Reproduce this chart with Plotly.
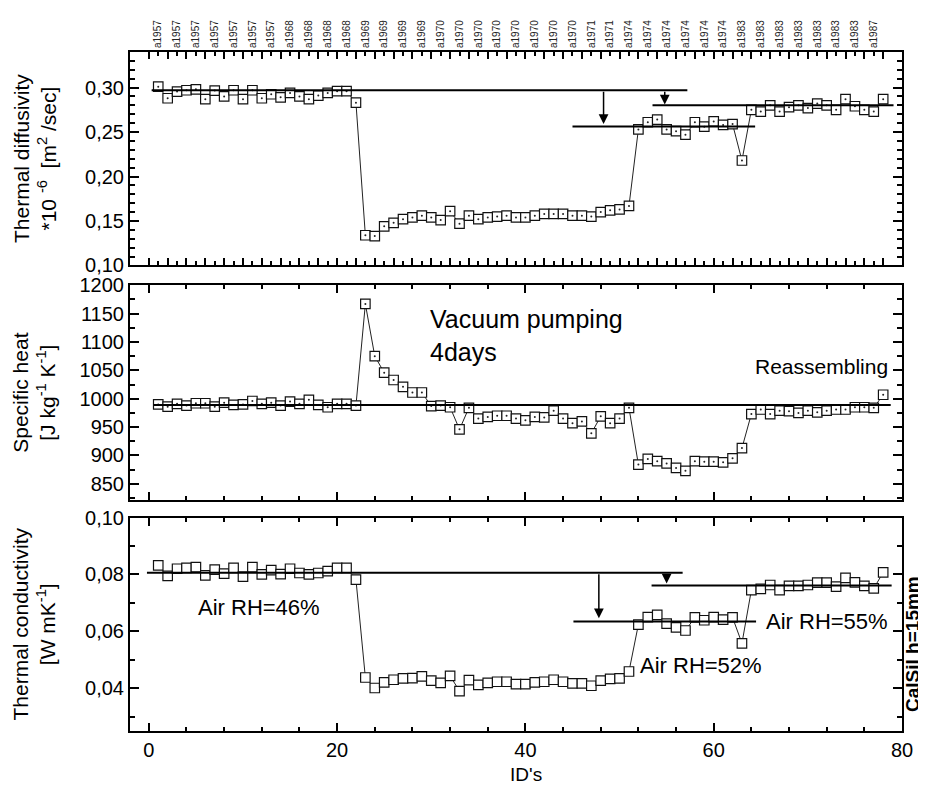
import plotly.graph_objects as go

# ---------------- data ----------------
ids = list(range(1, 79))

diffusivity = [0.301, 0.288, 0.2955, 0.297, 0.298, 0.287, 0.2966, 0.290, 0.297, 0.287,
               0.297, 0.288, 0.2925, 0.289, 0.294, 0.290, 0.287, 0.291, 0.294, 0.296,
               0.296, 0.283, 0.134, 0.133, 0.144, 0.148, 0.152, 0.154, 0.156, 0.154,
               0.151, 0.161, 0.147, 0.156, 0.152, 0.154, 0.155, 0.156, 0.154, 0.154,
               0.156, 0.158, 0.158, 0.158, 0.156, 0.156, 0.155, 0.160, 0.162, 0.163,
               0.167, 0.253, 0.261, 0.264, 0.253, 0.251, 0.247, 0.261, 0.256, 0.262,
               0.258, 0.259, 0.218, 0.275, 0.273, 0.280, 0.273, 0.278, 0.280, 0.277,
               0.282, 0.280, 0.275, 0.287, 0.279, 0.275, 0.273, 0.287]

specific_heat = [990, 986, 991, 988, 992, 992, 986, 993, 989, 990,
                 996, 991, 993, 988, 995, 991, 998, 989, 985, 991,
                 991, 988, 1167, 1075, 1046, 1033, 1021, 1011, 1011, 987,
                 988, 985, 946, 984, 965, 968, 970, 970, 965, 962,
                 968, 967, 979, 965, 957, 960, 939, 969, 957, 965,
                 984, 884, 894, 890, 886, 878, 873, 890, 889, 889,
                 888, 895, 913, 973, 981, 973, 979, 978, 975, 979,
                 976, 979, 981, 981, 985, 985, 984, 1007]

conductivity = [0.0832, 0.0795, 0.0820, 0.0823, 0.0826, 0.0797, 0.0817, 0.0803, 0.0823, 0.0792,
                0.0826, 0.0800, 0.0815, 0.0801, 0.0820, 0.0805, 0.0800, 0.0805, 0.0812, 0.0823,
                0.0823, 0.0782, 0.0438, 0.0401, 0.0421, 0.0430, 0.0435, 0.0436, 0.0442, 0.0427,
                0.0419, 0.0444, 0.0390, 0.0429, 0.0412, 0.0419, 0.0423, 0.0423, 0.0415, 0.0415,
                0.0421, 0.0423, 0.0430, 0.0423, 0.0417, 0.0417, 0.0409, 0.0427, 0.0433, 0.0435,
                0.0459, 0.0624, 0.0650, 0.0658, 0.0627, 0.0614, 0.0603, 0.0649, 0.0639, 0.0650,
                0.0641, 0.0649, 0.0558, 0.0745, 0.0749, 0.0763, 0.0745, 0.0760, 0.0760, 0.0763,
                0.0771, 0.0771, 0.0757, 0.0788, 0.0772, 0.0760, 0.0751, 0.0807]

label_ids = list(range(1, 78, 2))
sample_labels = (['a1957'] * 7 + ['a1968'] * 4 + ['a1969'] * 4 + ['a1970'] * 8 +
                 ['a1971'] * 2 + ['a1974'] * 6 + ['a1983'] * 7 + ['a1987'])

# mean levels drawn as horizontal reference lines
diff_ref_level = [0.297, 0.2563, 0.280]
diff_ref_start = [0.3, 45.0, 53.5]
diff_ref_end = [57.2, 64.4, 79.1]
diff_arrow_x = [48.3, 54.8]
diff_arrow_to = [0.259, 0.281]

heat_ref_level = [989]
heat_ref_start = [0.5]
heat_ref_end = [78.8]

cond_ref_level = [0.0806, 0.0635, 0.0761]
cond_ref_start = [-0.2, 45.1, 53.4]
cond_ref_end = [56.7, 64.5, 78.9]
cond_arrow_x = [47.8, 55.0]
cond_arrow_to = [0.0646, 0.0768]

FONT = "Liberation Sans, Arial, sans-serif"

fig = go.Figure()

def add_series(y, xa, ya, dots):
    fig.add_trace(go.Scatter(
        x=ids, y=y, xaxis=xa, yaxis=ya, mode="lines+markers",
        line=dict(color="#222222", width=1),
        marker=dict(symbol="square", size=9.5, color="white",
                    line=dict(color="#111111", width=1.2)),
        showlegend=False, hoverinfo="skip"))
    if dots:
        fig.add_trace(go.Scatter(
            x=ids, y=y, xaxis=xa, yaxis=ya, mode="markers",
            marker=dict(symbol="circle", size=2, color="#222222"),
            showlegend=False, hoverinfo="skip"))

add_series(diffusivity, "x", "y", True)
add_series(specific_heat, "x2", "y2", True)
add_series(conductivity, "x3", "y3", False)

shapes = []
def add_refs(levels, starts, ends, xr, yr):
    for lv, s, e in zip(levels, starts, ends):
        shapes.append(dict(type="line", xref=xr, yref=yr, x0=s, x1=e, y0=lv, y1=lv,
                           line=dict(color="black", width=2)))

add_refs(diff_ref_level, diff_ref_start, diff_ref_end, "x", "y")
add_refs(heat_ref_level, heat_ref_start, heat_ref_end, "x2", "y2")
add_refs(cond_ref_level, cond_ref_start, cond_ref_end, "x3", "y3")

annotations = []
def add_arrows(xs, tos, start, xr, yr):
    for xv, tv in zip(xs, tos):
        annotations.append(dict(x=xv, y=tv, ax=xv, ay=start, xref=xr, yref=yr,
                                axref=xr, ayref=yr, text="", showarrow=True,
                                arrowhead=2, arrowsize=1.3, arrowwidth=1.5,
                                arrowcolor="black", standoff=0, startstandoff=0))

add_arrows(diff_arrow_x, diff_arrow_to, diff_ref_level[0], "x", "y")
add_arrows(cond_arrow_x, cond_arrow_to, cond_ref_level[0], "x3", "y3")

def txt(x, y, s, xr, yr, size=22, **kw):
    d = dict(x=x, y=y, xref=xr, yref=yr, text=s, showarrow=False,
             font=dict(family=FONT, size=size, color="black"),
             xanchor="left", yanchor="middle", align="left")
    d.update(kw)
    annotations.append(d)

txt(29.6, 1112, "Vacuum pumping<br>4days", "x2", "y2", size=25)
txt(64.2, 1057, "Reassembling", "x2", "y2", size=21)
txt(5.0, 0.0684, "Air RH=46%", "x3", "y3", size=22)
txt(52.0, 0.0479, "Air RH=52%", "x3", "y3", size=22)
txt(65.3, 0.0635, "Air RH=55%", "x3", "y3", size=22)

# y-axis titles
dom_top = [0.6856, 1.0]
dom_mid = [0.3406, 0.6565]
dom_bot = [0.0, 0.3144]
for dom, s in [(dom_top, "Thermal diffusivity<br>*10 <sup>-6</sup>  [m<sup>2</sup> /sec]"),
               (dom_mid, "Specific heat<br>[J kg<sup>-1</sup> K<sup>-1</sup>]"),
               (dom_bot, "Thermal conductivity<br>[W mK<sup>-1</sup>]")]:
    annotations.append(dict(x=-0.124, y=(dom[0] + dom[1]) / 2, xref="paper", yref="paper",
                            text=s, showarrow=False, textangle=-90,
                            font=dict(family=FONT, size=21, color="black"),
                            xanchor="center", yanchor="middle"))

annotations.append(dict(x=1.0128, y=0.128, xref="paper", yref="paper",
                        text="<b>CalSil h=15mm</b>", showarrow=False, textangle=-90,
                        font=dict(family=FONT, size=19, color="black"),
                        xanchor="center", yanchor="middle"))
annotations.append(dict(x=0.513, y=-0.064, xref="paper", yref="paper",
                        text="ID's", showarrow=False,
                        font=dict(family=FONT, size=19, color="black"),
                        xanchor="center", yanchor="middle"))

tickfont = dict(family=FONT, size=20, color="black")
axcommon = dict(showline=True, linecolor="black", linewidth=2, mirror="ticks",
                ticks="inside", tickcolor="black", tickwidth=1.5,
                showgrid=False, zeroline=False)
xrange = [-2, 80]

# page body has an 8px margin, so the figure is 8px smaller and margins compensate
fig.update_layout(
    width=918, height=780,
    margin=dict(l=122, r=24, t=36, b=57),
    paper_bgcolor="white", plot_bgcolor="white",
    separators=",.",
    font=dict(family=FONT, color="black"),
    shapes=shapes, annotations=annotations,
    xaxis=dict(domain=[0, 1], anchor="y", range=xrange, side="top",
               tickmode="array", tickvals=label_ids, ticktext=sample_labels,
               tickangle=-90, ticklen=4,
               tickfont=dict(family=FONT, size=10, color="#222222"),
               minor=dict(tickmode="array", tickvals=list(range(0, 80, 2)),
                          ticks="inside", ticklen=7, tickcolor="black", tickwidth=1.5),
               **axcommon),
    xaxis2=dict(domain=[0, 1], anchor="y2", range=xrange, showticklabels=False,
                tick0=0, dtick=20, ticklen=8,
                minor=dict(dtick=4, tick0=0, ticks="inside", ticklen=4,
                           tickcolor="black", tickwidth=1.5),
                **axcommon),
    xaxis3=dict(domain=[0, 1], anchor="y3", range=xrange, tickfont=tickfont,
                tick0=0, dtick=20, ticklen=8,
                minor=dict(dtick=4, tick0=0, ticks="inside", ticklen=4,
                           tickcolor="black", tickwidth=1.5),
                **axcommon),
    yaxis=dict(domain=dom_top, anchor="x", range=[0.10, 0.34], tickfont=tickfont,
               tickmode="array", tickvals=[0.10, 0.15, 0.20, 0.25, 0.30],
               tickformat=".2f", ticklen=9,
               minor=dict(dtick=0.01, tick0=0.10, ticks="inside", ticklen=5,
                          tickcolor="black", tickwidth=1.5),
               **axcommon),
    yaxis2=dict(domain=dom_mid, anchor="x2", range=[822, 1200], tickfont=tickfont,
                tickmode="array", tickvals=[850, 900, 950, 1000, 1050, 1100, 1150, 1200],
                tickformat=".0f", ticklen=9,
                minor=dict(dtick=25, tick0=800, ticks="inside", ticklen=5,
                           tickcolor="black", tickwidth=1.5),
                **axcommon),
    yaxis3=dict(domain=dom_bot, anchor="x3", range=[0.025, 0.10], tickfont=tickfont,
                tickmode="array", tickvals=[0.04, 0.06, 0.08, 0.10],
                tickformat=".2f", ticklen=9,
                minor=dict(dtick=0.01, tick0=0.0, ticks="inside", ticklen=5,
                           tickcolor="black", tickwidth=1.5),
                **axcommon),
)

fig.write_html("out.html")
